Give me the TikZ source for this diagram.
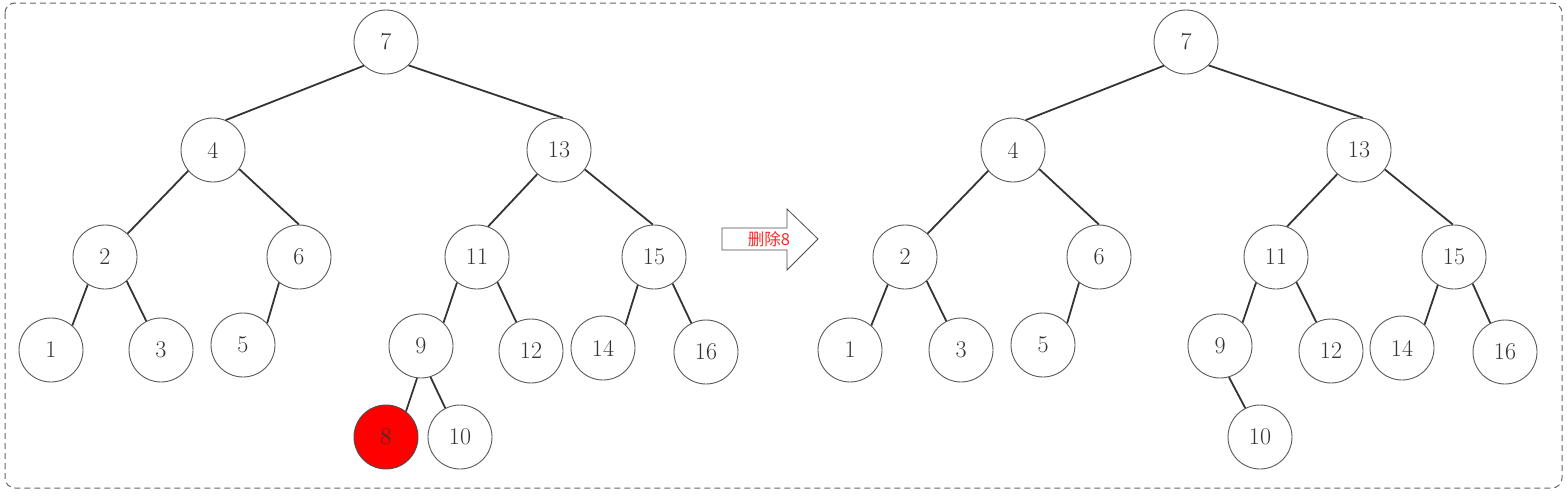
\documentclass[tikz,border=0pt]{standalone}
\usepackage{fontspec}
\newfontfamily\cjk{Noto Sans CJK SC}
\begin{document}
\begin{tikzpicture}[x=1pt,y=-1pt,
  tn/.style={circle,draw=black!65,line width=0.9pt,minimum size=64pt,inner sep=0pt,fill=white,
    font=\fontsize{24}{28}\selectfont,text=black!80},
  del/.style={tn,fill=red,draw=black!70},
  ed/.style={draw=black!80,line width=1.8pt}]
\useasboundingbox (0,0) rectangle (1567,498);
\draw[black!60,dashed,line width=1pt,dash pattern=on 6pt off 4pt,rounded corners=10pt] (5,3) rectangle (1562,488);
% left tree
\node[tn] (a7) at (386,42) {7};
\node[tn] (a4) at (213,150) {4};
\node[tn] (a13) at (559,150) {13};
\node[tn] (a2) at (105,257) {2};
\node[tn] (a6) at (299,257) {6};
\node[tn] (a11) at (477,257) {11};
\node[tn] (a15) at (654,257) {15};
\node[tn] (a1) at (51,350) {1};
\node[tn] (a3) at (161,350) {3};
\node[tn] (a5) at (243,345) {5};
\node[tn] (a9) at (421,346) {9};
\node[tn] (a12) at (531,351) {12};
\node[tn] (a14) at (603,348) {14};
\node[tn] (a16) at (706,352) {16};
\node[del] (a8) at (386,437) {8};
\node[tn] (a10) at (460,437) {10};
\foreach \p/\s/\c/\e in {7/227/4/67,7/314/13/83,4/220/2/46,4/324/6/90,13/228/11/70,13/323/15/92,
  2/238/1/49,2/312/3/117,6/232/5/42,11/232/9/46,11/309/12/117,15/240/14/46,15/305/16/117,
  9/263/8/52,9/287/10/117}
  \draw[ed] (a\p.\s) -- (a\c.\e);
% right tree
\node[tn] (b7) at (1186,42) {7};
\node[tn] (b4) at (1013,150) {4};
\node[tn] (b13) at (1359,150) {13};
\node[tn] (b2) at (905,257) {2};
\node[tn] (b6) at (1099,257) {6};
\node[tn] (b11) at (1276,257) {11};
\node[tn] (b15) at (1454,257) {15};
\node[tn] (b1) at (850,350) {1};
\node[tn] (b3) at (961,350) {3};
\node[tn] (b5) at (1043,345) {5};
\node[tn] (b9) at (1220,346) {9};
\node[tn] (b12) at (1331,351) {12};
\node[tn] (b14) at (1402,348) {14};
\node[tn] (b16) at (1505,352) {16};
\node[tn] (b10) at (1260,437) {10};
\foreach \p/\s/\c/\e in {7/227/4/67,7/314/13/83,4/220/2/46,4/324/6/90,13/228/11/70,13/323/15/92,
  2/238/1/49,2/312/3/117,6/232/5/42,11/232/9/46,11/309/12/117,15/240/14/46,15/305/16/117,
  9/286/10/117}
  \draw[ed] (b\p.\s) -- (b\c.\e);
% arrow
\draw[black!70,line width=0.8pt,fill=white] (722,228) -- (787,228) -- (787,209) -- (818,239) -- (787,270) -- (787,250) -- (722,250) -- cycle;
\node[text=red!85!white,font=\cjk\fontsize{16.5}{18}\selectfont,inner sep=0pt] (lbl) at (769,239) {删除8};
\end{tikzpicture}
\end{document}
